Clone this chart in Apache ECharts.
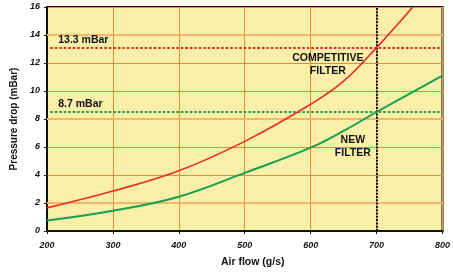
<!DOCTYPE html>
<html>
<head>
<meta charset="utf-8">
<script src="https://cdn.jsdelivr.net/npm/echarts@6/dist/echarts.min.js"></script>
<style>
  html, body { margin: 0; padding: 0; background: #fff; }
  #chart { width: 453px; height: 273px; }
</style>
</head>
<body>
<div id="chart"></div>
<script>
// air flow (g/s) sample points
const competitiveFlow = [200, 300, 400, 500, 600, 650, 700, 755]
const competitiveDrop = [1.65, 2.85, 4.3, 6.4, 9.05, 10.7, 13.1, 16]
const newFlow = [200, 300, 400, 500, 600, 650, 700, 800]
const newDrop = [0.75, 1.45, 2.45, 4.15, 5.95, 7.15, 8.5, 11.1]

const competitiveLevel = 13.1
const newLevel = 8.5
const refFlow = 700
const thickGrid = [2, 8, 14]

const chart = echarts.init(document.getElementById('chart'))
const font = 'Liberation Sans, Arial, sans-serif'

const pair = (xs, ys) => xs.map((x, i) => [x, ys[i]])

const textPoint = (coord, text, align) => ({
  coord,
  symbol: 'circle',
  symbolSize: 1,
  itemStyle: { color: 'rgba(0,0,0,0)' },
  label: {
    show: true,
    position: 'inside',
    formatter: text,
    color: '#111',
    fontFamily: font,
    fontWeight: 'bold',
    fontSize: 10.5,
    lineHeight: 13,
    align: align,
    verticalAlign: 'middle',
  },
})

chart.setOption({
  animation: false,
  backgroundColor: '#fff',
  grid: {
    left: 47,
    right: 9,
    top: 7,
    bottom: 39,
    show: true,
    backgroundColor: '#f9efa9',
    borderColor: '#111',
    borderWidth: 2,
  },
  xAxis: {
    type: 'value',
    min: 200,
    max: 800,
    interval: 100,
    name: 'Air flow (g/s)',
    nameLocation: 'middle',
    nameGap: 26,
    nameTextStyle: { color: '#111', fontFamily: font, fontWeight: 'bold', fontSize: 10.5, padding: [0, 0, 0, 16] },
    axisLine: { lineStyle: { color: '#111', width: 2 } },
    axisTick: { length: 3, lineStyle: { color: '#111' } },
    axisLabel: { color: '#111', fontFamily: font, fontWeight: 'bold', fontStyle: 'italic', fontSize: 9, margin: 10 },
    splitLine: { lineStyle: { color: '#f0892e', width: 1 } },
  },
  yAxis: {
    type: 'value',
    min: 0,
    max: 16,
    interval: 2,
    name: 'Pressure drop (mBar)',
    nameLocation: 'middle',
    nameGap: 25,
    nameTextStyle: { color: '#111', fontFamily: font, fontWeight: 'bold', fontSize: 10 },
    axisLine: { lineStyle: { color: '#111', width: 2 } },
    axisTick: { length: 3, lineStyle: { color: '#111' } },
    axisLabel: { color: '#111', fontFamily: font, fontWeight: 'bold', fontStyle: 'italic', fontSize: 9, margin: 7 },
    splitLine: { lineStyle: { color: '#f0892e', width: 1 } },
  },
  series: [
    {
      name: 'Competitive filter',
      type: 'line',
      data: pair(competitiveFlow, competitiveDrop),
      smooth: 0.4,
      showSymbol: false,
      clip: true,
      z: 5,
      lineStyle: { color: '#ee2a2a', width: 1.6 },
      markLine: {
        silent: true,
        symbol: 'none',
        label: { show: false },
        data: [
          ...thickGrid.map(v => ({ yAxis: v, lineStyle: { color: '#f4b66c', width: 2, type: 'solid' } })),
          [
            { coord: [205, competitiveLevel], lineStyle: { color: '#e8262a', width: 2, type: [2.5, 2] } },
            { coord: [800, competitiveLevel] },
          ],
          [
            { coord: [205, newLevel], lineStyle: { color: '#12a046', width: 2, type: [2.5, 2] } },
            { coord: [800, newLevel] },
          ],
          [
            { coord: [refFlow, 0], lineStyle: { color: '#111', width: 2, type: [2, 1.3] } },
            { coord: [refFlow, 16] },
          ],
        ],
      },
      markPoint: {
        silent: true,
        data: [
          textPoint([217, 13.65], '13.3 mBar', 'left'),
          textPoint([217, 9.05], '8.7 mBar', 'left'),
          textPoint([626, 11.85], 'COMPETITIVE\nFILTER', 'center'),
          textPoint([664, 6.05], 'NEW\nFILTER', 'center'),
        ],
      },
    },
    {
      name: 'New filter',
      type: 'line',
      data: pair(newFlow, newDrop),
      smooth: 0.4,
      showSymbol: false,
      z: 5,
      lineStyle: { color: '#14a04c', width: 2 },
    },
  ],
})
</script>
</body>
</html>
